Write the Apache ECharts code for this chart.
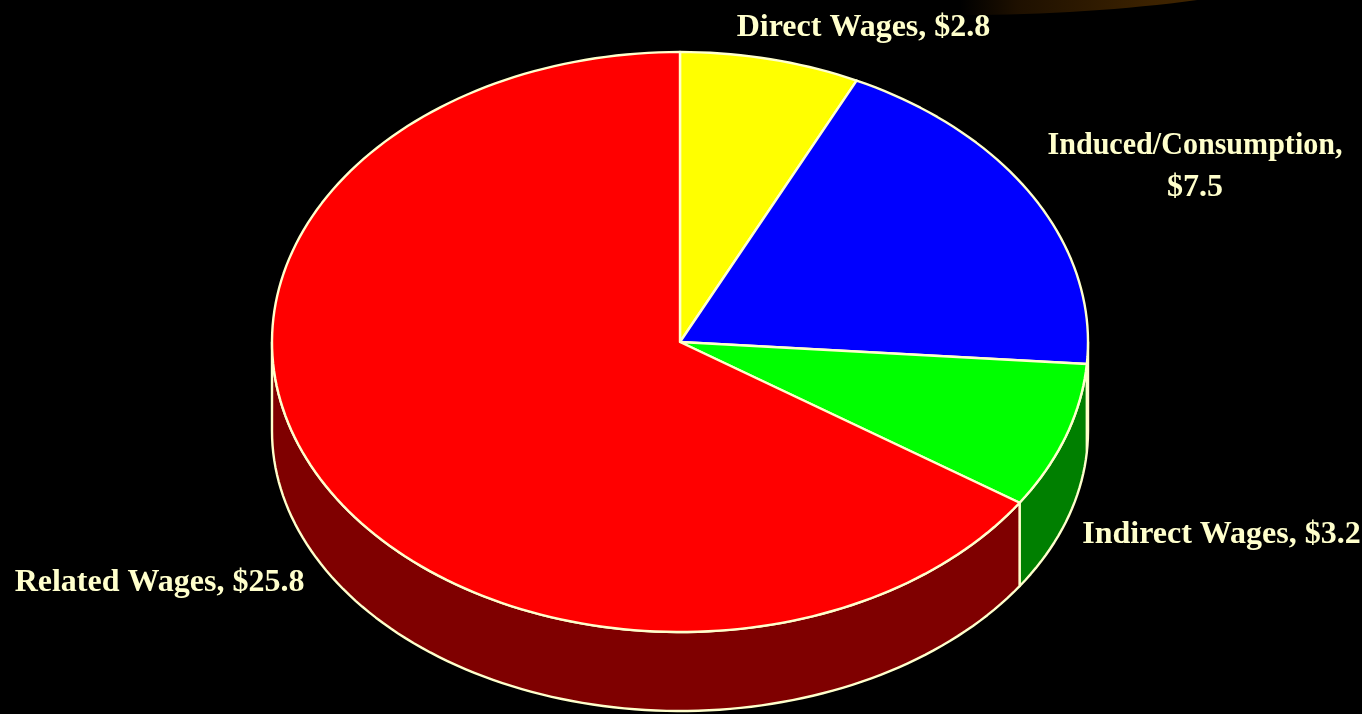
<!DOCTYPE html>
<html>
<head>
<meta charset="utf-8">
<style>html,body{margin:0;padding:0;background:#000}#c{width:1362px;height:714px}</style>
<script src="https://cdn.jsdelivr.net/npm/echarts@6/dist/echarts.min.js"></script>
</head>
<body>
<div id="c"></div>
<script>
var categories = ['Direct Wages', 'Induced/Consumption', 'Indirect Wages', 'Related Wages'];
var values = [2.8, 7.5, 3.2, 25.8];
var topColors = ['#ffff00', '#0000ff', '#00ff00', '#ff0000'];
var sideColors = ['#7f7f00', '#00007f', '#007f00', '#7f0000'];
var labelCentres = [[863.5, 28], [1195, 167], [1221.5, 535], [159.5, 583]];
var labelBreaks = [false, true, false, false];
var nameSqueeze = [1, 0.94, 1, 1];

var INK = '#ffffcc';
var C = { x: 680, y: 342, rx: 408, ry: 290 };
var B = { x: 680, y: 431, rx: 408, ry: 280 };
var total = values.reduce(function (a, b) { return a + b; }, 0);

function pt(e, deg) {
  var t = deg * Math.PI / 180;
  return [e.x + e.rx * Math.sin(t), e.y - e.ry * Math.cos(t)];
}
function arc(e, a, b) {
  var out = [], n = Math.max(2, Math.ceil(Math.abs(b - a) / 1.5));
  for (var i = 0; i <= n; i++) out.push(pt(e, a + (b - a) * i / n));
  return out;
}
function textLine(str, x, y, sx) {
  return {
    type: 'text',
    z2: 10,
    x: x, y: y, scaleX: sx,
    style: {
      x: 0, y: 0,
      text: str,
      fill: INK,
      font: 'bold 32px "Liberation Serif", "Times New Roman", serif',
      align: 'center', verticalAlign: 'middle'
    }
  };
}
function renderSlice(params, api) {
  var i = params.dataIndex;
  var before = 0;
  for (var k = 0; k < i; k++) before += values[k];
  var a0 = before / total * 360;
  var a1 = (before + api.value(1)) / total * 360;
  var children = [];
  var s0 = Math.max(a0, 90), s1 = Math.min(a1, 270);
  if (s1 > s0) {
    children.push({
      type: 'polygon',
      shape: { points: arc(C, s0, s1).concat(arc(B, s1, s0)) },
      style: { fill: sideColors[i], stroke: INK, lineWidth: 2.4, lineJoin: 'round' }
    });
  }
  children.push({
    type: 'polygon',
    shape: { points: [[C.x, C.y]].concat(arc(C, a0, a1)) },
    style: { fill: topColors[i], stroke: INK, lineWidth: 2.4, lineJoin: 'round' }
  });
  var cx = labelCentres[i][0], cy = labelCentres[i][1];
  var money = '$' + api.value(1);
  if (labelBreaks[i]) {
    children.push(textLine(categories[i] + ',', cx, cy - 21, nameSqueeze[i]));
    children.push(textLine(money, cx, cy + 21, 1));
  } else {
    children.push(textLine(categories[i] + ', ' + money, cx, cy, nameSqueeze[i]));
  }
  return { type: 'group', children: children };
}

var chart = echarts.init(document.getElementById('c'), null, { renderer: 'canvas' });
chart.setOption({
  backgroundColor: '#000000',
  animation: false,
  graphic: [{
    type: 'ellipse',
    silent: true,
    shape: { cx: 960, cy: -100, rx: 480, ry: 115 },
    style: {
      fill: {
        type: 'linear', x: 0, y: 0, x2: 1, y2: 0,
        colorStops: [
          { offset: 0, color: '#000000' },
          { offset: 0.5, color: '#000000' },
          { offset: 0.56, color: '#1e1000' },
          { offset: 0.7, color: '#3c2200' },
          { offset: 0.8, color: '#452800' },
          { offset: 1, color: '#452800' }
        ]
      }
    }
  }],
  series: [{
    type: 'custom',
    coordinateSystem: 'none',
    renderItem: renderSlice,
    data: categories.map(function (c, i) { return [i, values[i]]; }),
    encode: { itemName: 0, value: 1 }
  }]
});
</script>
</body>
</html>
